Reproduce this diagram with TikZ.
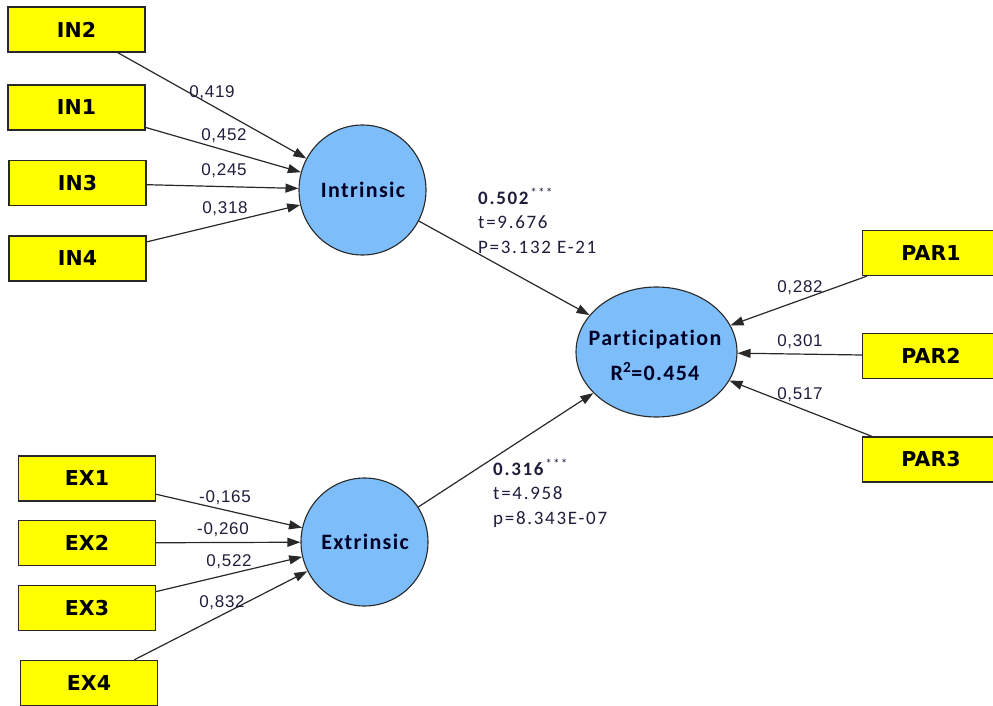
\documentclass[tikz,border=0pt]{standalone}
\usepackage{fontspec}
\usetikzlibrary{shapes.geometric,arrows.meta}
\newfontfamily\boxfont{DejaVu Sans}
\newfontfamily\latfont{Carlito}[LetterSpace=6,Ligatures=NoCommon,RawFeature=-liga]
\newfontfamily\pathfont{Carlito}[LetterSpace=9,Ligatures=NoCommon,RawFeature=-liga]
\newfontfamily\coeffont{Liberation Sans}[LetterSpace=4]
\definecolor{boxyellow}{RGB}{255,255,0}
\definecolor{latblue}{RGB}{125,190,250}
\definecolor{edgegray}{RGB}{40,40,40}
\definecolor{coeftext}{RGB}{30,30,60}
\begin{document}
\begin{tikzpicture}[x=1pt,y=-1pt,
  indic/.style={draw=edgegray,line width=1.3pt,fill=boxyellow,minimum width=137pt,minimum height=45pt,inner sep=0pt,font=\boxfont\bfseries\fontsize{20.5}{24}\selectfont},
  latent/.style={ellipse,draw=edgegray,line width=1.1pt,fill=latblue,inner sep=0pt},
  latlab/.style={font=\latfont\bfseries\fontsize{22}{35}\selectfont,text=black!85!blue,align=center,inner sep=0pt},
  link/.style={draw=edgegray,line width=1.2pt,-{Triangle[length=13pt,width=9pt]}},
  coef/.style={font=\coeffont\fontsize{17}{20}\selectfont,text=coeftext,inner sep=0pt},
  pathlab/.style={font=\pathfont\fontsize{19}{24.5}\selectfont,text=coeftext,inner sep=0pt,align=left}
]
\useasboundingbox (0,0) rectangle (993,706);
% indicators
\node[indic] (in2) at (76.5,29.5) {IN2};
\node[indic] (in1) at (76.5,107.5) {IN1};
\node[indic] (in3) at (77.5,183) {IN3};
\node[indic] (in4) at (77.5,258.5) {IN4};
\node[indic] (ex1) at (87,478.5) {EX1};
\node[indic] (ex2) at (87,543) {EX2};
\node[indic] (ex3) at (87,608) {EX3};
\node[indic] (ex4) at (89,683) {EX4};
\node[indic] (par1) at (931,253) {PAR1};
\node[indic] (par2) at (931,356) {PAR2};
\node[indic] (par3) at (931,459.5) {PAR3};
% latent variables
\node[latent,minimum width=127pt,minimum height=130pt] (intr) at (362.5,190) {};
\node[latent,minimum width=127pt,minimum height=128pt] (extr) at (364.5,542) {};
\node[latent,minimum width=161pt,minimum height=130pt] (part) at (656.5,352) {};
\node[latlab] (intrlab) at (363,190) {Intrinsic};
\node[latlab] (extrlab) at (365,542) {Extrinsic};
\node[latlab] (partlab) at (655,355) {Participation\\R\textsuperscript{2}=0.454};
% connectors
\draw[link] (in2) -- (intr);
\draw[link] (in1) -- (intr);
\draw[link] (in3) -- (intr);
\draw[link] (in4) -- (intr);
\draw[link] (ex1) -- (extr);
\draw[link] (ex2) -- (extr);
\draw[link] (ex3) -- (extr);
\draw[link] (ex4) -- (extr);
\draw[link] (par1) -- (part);
\draw[link] (par2) -- (part);
\draw[link] (par3) -- (part);
\draw[link] (intr) -- (part);
\draw[link] (extr) -- (part);
% coefficients
\node[coef] (c1) at (212,93) {0,419};
\node[coef] (c2) at (224,136) {0,452};
\node[coef] (c3) at (224,171) {0,245};
\node[coef] (c4) at (225,209) {0,318};
\node[coef] (c5) at (225,498) {-0,165};
\node[coef] (c6) at (223,530) {-0,260};
\node[coef] (c7) at (229,562) {0,522};
\node[coef] (c8) at (222,603) {0,832};
\node[coef] (c9) at (800,288) {0,282};
\node[coef] (c10) at (800,342) {0,301};
\node[coef] (c11) at (800,395) {0,517};
% path labels
\node[pathlab,anchor=base west] (p1) at (478,253) {\textbf{0.502}\textsuperscript{***}\\t=9.676\\P=3.132 E-21};
\node[pathlab,anchor=base west] (p2) at (493,524) {\textbf{0.316}\textsuperscript{***}\\t=4.958\\p=8.343E-07};
\end{tikzpicture}
\end{document}
